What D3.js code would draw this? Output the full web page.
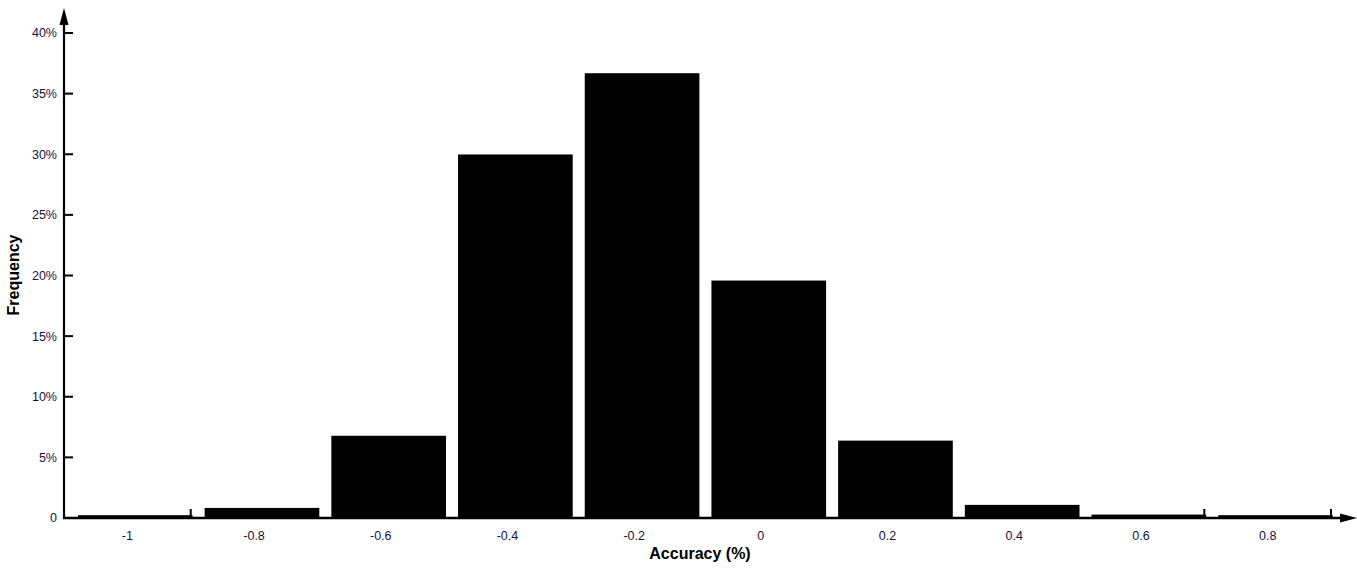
<!DOCTYPE html>
<html><head><meta charset="utf-8">
<script src="https://cdn.jsdelivr.net/npm/d3@7"></script>
<style>body{margin:0;background:#fff}svg{display:block}text{font-family:Arial,"Liberation Sans",sans-serif}</style>
</head><body>
<svg id="c" width="1357" height="571"></svg>
<script>
const binCenters = [-1, -0.8, -0.6, -0.4, -0.2, 0, 0.2, 0.4, 0.6, 0.8];
const binLabels = ["-1", "-0.8", "-0.6", "-0.4", "-0.2", "0", "0.2", "0.4", "0.6", "0.8"];
const freqValues = [0.15, 0.75, 6.7, 29.9, 36.6, 19.5, 6.3, 1.0, 0.2, 0.15];
const yTicks = [0, 5, 10, 15, 20, 25, 30, 35, 40];
const yTickLabels = ["0", "5%", "10%", "15%", "20%", "25%", "30%", "35%", "40%"];
const binWidth = 0.2;

const svg = d3.select("#c");
const x = d3.scaleLinear().domain([-1.1, 0.9]).range([64, 1331]);
const y = d3.scaleLinear().domain([0, 40]).range([518, 33]);
const bw = x(binWidth) - x(0);

// x ticks at bin boundaries
const bounds = binCenters.map(c => c + binWidth/2);
svg.append("g").selectAll("line").data(bounds).join("line")
  .attr("x1", d => x(d)).attr("x2", d => x(d)).attr("y1", y(0)).attr("y2", y(0) - 9)
  .attr("stroke", "#000").attr("stroke-width", 2);

// bars
svg.append("g").selectAll("rect").data(binCenters).join("rect")
  .attr("x", (d) => x(d - binWidth/2) + bw*0.11)
  .attr("width", bw*0.905)
  .attr("y", (d,i) => y(freqValues[i]) - 1)
  .attr("height", (d,i) => y(0) - y(freqValues[i]) + 1)
  .attr("fill", "#000");

// y axis line + ticks
svg.append("line").attr("x1", 64).attr("x2", 64).attr("y1", y(0)+1).attr("y2", 20)
  .attr("stroke", "#000").attr("stroke-width", 2.2);
svg.append("path").attr("d", "M64,8 L68.5,25 L59.5,25 Z").attr("fill", "#000");
svg.append("g").selectAll("line").data(yTicks).join("line")
  .attr("x1", 64).attr("x2", 73).attr("y1", d => y(d)).attr("y2", d => y(d))
  .attr("stroke", "#000").attr("stroke-width", 2);
svg.append("g").selectAll("text").data(yTicks).join("text")
  .attr("x", 57).attr("y", d => y(d)).attr("dy", "0.35em")
  .attr("text-anchor", "end").attr("font-size", 12.5).attr("fill", "#14143c")
  .text((d,i) => yTickLabels[i]);

// x axis line
svg.append("line").attr("x1", 63).attr("x2", 1345).attr("y1", y(0)).attr("y2", y(0))
  .attr("stroke", "#000").attr("stroke-width", 2.6);
svg.append("path").attr("d", "M1357,518 L1340,513.5 L1340,522.5 Z").attr("fill", "#000");

// x labels
svg.append("g").selectAll("text").data(binCenters).join("text")
  .attr("x", d => x(d)).attr("y", 540)
  .attr("text-anchor", "middle").attr("font-size", 12.5).attr("fill", "#14143c")
  .text((d,i) => binLabels[i]);

// titles
svg.append("text").attr("x", 700).attr("y", 559).attr("text-anchor", "middle")
  .attr("font-size", 16).attr("font-weight", "bold").text("Accuracy (%)");
svg.append("text").attr("transform", "translate(19,275) rotate(-90)").attr("text-anchor", "middle")
  .attr("font-size", 16).attr("font-weight", "bold").text("Frequency");
</script>
</body></html>
